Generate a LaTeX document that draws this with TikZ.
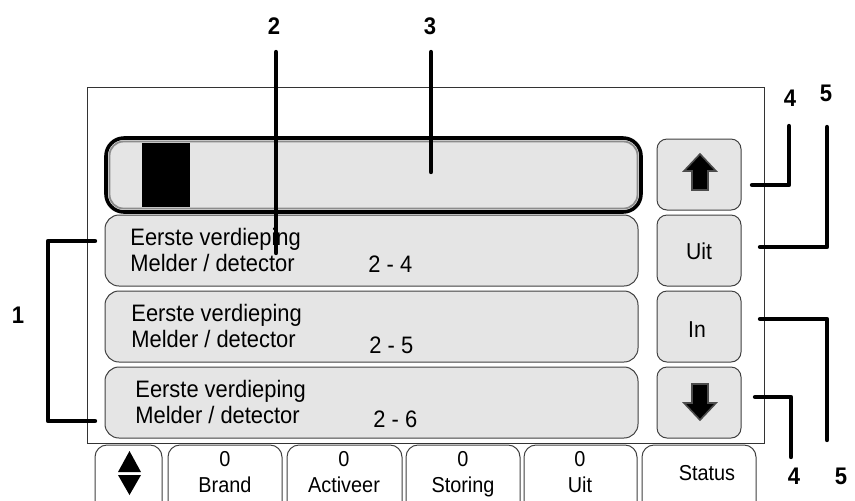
\documentclass[tikz,border=0pt]{standalone}
\usepackage{fontspec}
\setmainfont{Liberation Sans}[FakeStretch=0.92]
\begin{document}
\begin{tikzpicture}[x=0.5pt, y=-0.5pt,
        panel/.style={draw=black!75, fill=black!10, line width=0.5pt, rounded corners=7pt},
        tabline/.style={draw=black!75, fill=white, line width=0.5pt, rounded corners=6pt},
        callout/.style={line width=2.2pt, line cap=round, line join=round},
        num/.style={font=\bfseries\fontsize{12}{14}\selectfont, inner sep=0pt},
        rowtext/.style={font=\fontsize{11.9}{14}\selectfont, inner sep=0pt, anchor=base west},
        tabtext/.style={font=\fontsize{10.8}{12}\selectfont, inner sep=0pt, anchor=base}]
            \useasboundingbox (0,0) rectangle (855,500);
            \draw[black!80, line width=0.5pt] (87,87) rectangle (764,443);
            \draw[line width=1.8pt, rounded corners=9pt, fill=black!10] (106,138) rectangle (641,212);
            \draw[black!45, line width=0.9pt, rounded corners=7pt] (109.5,141.5) rectangle (637.5,208.5);
            \fill (142,143) rectangle (190,207);
            \foreach \i/\y/\dx/\n/\dn in {1/215/130/4/57, 2/291/131/5/62, 3/367/135/6/60} {
                \draw[panel] (105,\y) rectangle (638,\y+71);
                \node[rowtext] (eerste\i) at (\dx,\y+30) {Eerste verdieping};
                \node[rowtext] (melder\i) at (\dx,\y+56) {Melder / detector};
                \node[rowtext] (adres\i) at (\dx+238,\y+\dn) {2 - \n};
            }
            \foreach \i/\y in {1/139, 2/215, 3/291, 4/367} \draw[panel, rounded corners=5pt] (657,\y) rectangle (741,\y+71);
            \filldraw[fill=black, draw=black!70, line width=0.8pt] (700,154) -- (716,171) -- (708,171) -- (708,190) -- (692,190) -- (692,171) -- (684,171) -- cycle;
            \filldraw[fill=black, draw=black!70, line width=0.8pt] (692,384) -- (708,384) -- (708,403) -- (716,403) -- (700,420) -- (684,403) -- (692,403) -- cycle;
            \node[rowtext, anchor=base, font=\fontsize{11.5}{13}\selectfont] (uit) at (699,259) {Uit};
            \node[rowtext, anchor=base, font=\fontsize{11.5}{13}\selectfont] (in) at (697,337) {In};
            \foreach \a/\b in {95/162, 168/282, 287/402, 406/520, 524/637, 642/756} \draw[tabline] (\a,501) -- (\a,445) -- (\b,445) -- (\b,501);
            \fill (118,472) -- (141,472) -- (129.5,451) -- cycle;
            \fill (118,475) -- (141,475) -- (129.5,495) -- cycle;
            \foreach \i/\x/\t in {1/225/Brand, 2/344/Activeer, 3/463/Storing, 4/580/Uit} {
                \node[tabtext] (teller\i) at (\x,466) {0};
                \node[tabtext] (tab\i) at (\x,492) {\t};
            }
            \node[tabtext] (status) at (707,480) {Status};
            \node[num] (n1) at (18,315) {1};
            \node[num] (n2) at (274,26) {2};
            \node[num] (n3) at (430,26) {3};
            \node[num] (n4a) at (790,98) {4};
            \node[num] (n5a) at (826,93) {5};
            \node[num] (n4b) at (794,476) {4};
            \node[num] (n5b) at (841,476) {5};
            \coordinate (c2) at (276,52); \coordinate (c3) at (431,52);
            \coordinate (c4a) at (789,126); \coordinate (c5a) at (827,127);
            \coordinate (c4b) at (791,457); \coordinate (c5b) at (827,440);
            \draw[callout] (c2) -- (276,253);
            \draw[callout] (c3) -- (431,172);
            \draw[callout] (95,241) -- (48,241) -- (48,421) -- (95,421);
            \draw[callout] (752,185) -| (c4a);
            \draw[callout] (760,247) -| (c5a);
            \draw[callout] (760,319) -| (c5b);
            \draw[callout] (755,397) -| (c4b);
        \end{tikzpicture}
\end{document}
